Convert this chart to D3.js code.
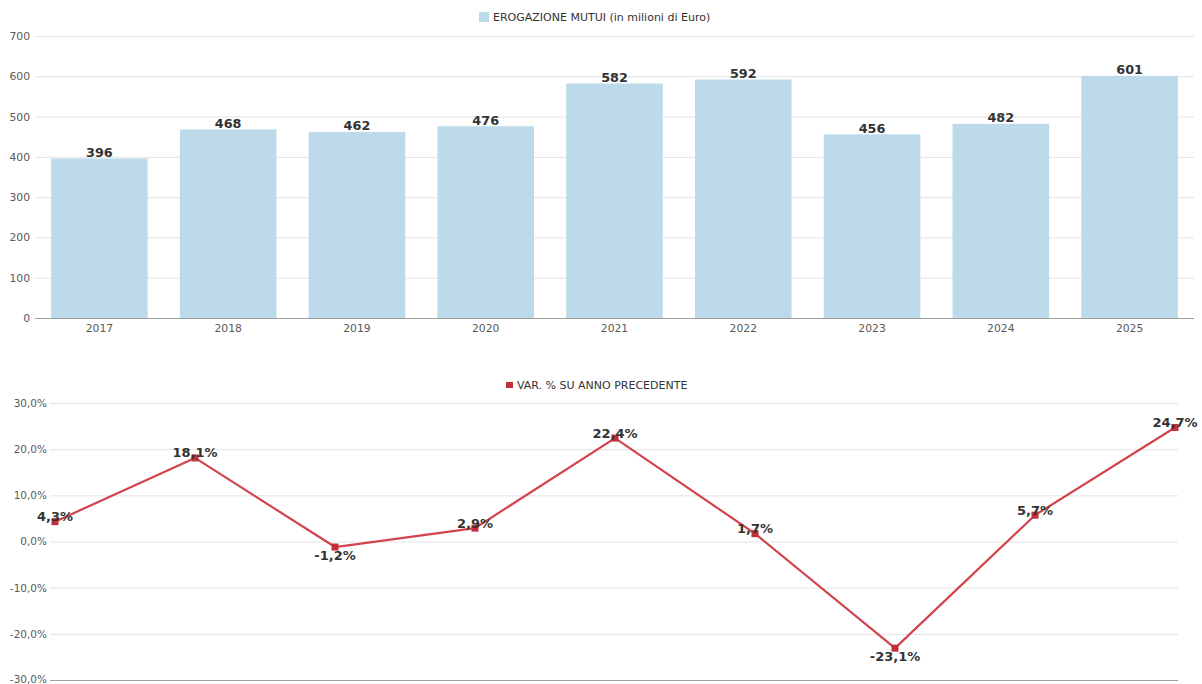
<!DOCTYPE html>
<html>
<head>
<meta charset="utf-8">
<script src="https://cdn.jsdelivr.net/npm/d3@7"></script>
<style>
  html, body { margin: 0; padding: 0; background: #fff; }
  svg { display: block; font-family: "DejaVu Sans", Verdana, sans-serif; }
</style>
</head>
<body>
<svg id="chart" width="1202" height="684"></svg>
<script>
const years = ["2017","2018","2019","2020","2021","2022","2023","2024","2025"];
const erogazione = [396, 468, 462, 476, 582, 592, 456, 482, 601];
const variazione = [4.3, 18.1, -1.2, 2.9, 22.4, 1.7, -23.1, 5.7, 24.7];
const barTicks = [0, 100, 200, 300, 400, 500, 600, 700];
const pctTicks = [-30, -20, -10, 0, 10, 20, 30];
const barLegend = "EROGAZIONE MUTUI (in milioni di Euro)";
const lineLegend = "VAR. % SU ANNO PRECEDENTE";

const svg = d3.select("#chart");
const fmtPct = v => d3.format(".1f")(v).replace("\u2212", "-").replace(".", ",") + "%";

// ---------- Top bar chart ----------
const x1 = d3.scaleBand().domain(years).range([35, 1194]).paddingInner(0.25).paddingOuter(0.125);
const y1 = d3.scaleLinear().domain([0, 700]).range([318, 36]);

const gTop = svg.append("g");
gTop.append("g").selectAll("line").data(barTicks.filter(d => d > 0)).join("line")
  .attr("x1", 35).attr("x2", 1194)
  .attr("y1", d => y1(d) + 0.5).attr("y2", d => y1(d) + 0.5)
  .attr("stroke", "#e3e3e3").attr("stroke-width", 1);

const yAx1 = gTop.append("g").attr("transform", "translate(35,0)")
  .call(d3.axisLeft(y1).tickValues(barTicks).tickSize(0).tickPadding(5));
yAx1.select(".domain").remove();
yAx1.selectAll("text").attr("fill", "#595959").style("font-size", "10.8px")
  .style("font-family", "DejaVu Sans, Verdana, sans-serif");

gTop.append("g").selectAll("rect").data(years).join("rect")
  .attr("x", d => x1(d)).attr("width", x1.bandwidth())
  .attr("y", (d, i) => y1(erogazione[i]))
  .attr("height", (d, i) => y1(0) - y1(erogazione[i]))
  .attr("fill", "#bcdaea");

gTop.append("line").attr("x1", 35).attr("x2", 1194).attr("y1", y1(0) + 0.5).attr("y2", y1(0) + 0.5)
  .attr("stroke", "#a0a0a0").attr("stroke-width", 1);

const xAx1 = gTop.append("g").attr("transform", `translate(0,${y1(0)})`)
  .call(d3.axisBottom(x1).tickSize(0).tickPadding(6));
xAx1.select(".domain").remove();
xAx1.selectAll("text").attr("fill", "#595959").style("font-size", "10.8px")
  .style("font-family", "DejaVu Sans, Verdana, sans-serif");

gTop.append("g").selectAll("text").data(years).join("text")
  .attr("x", d => x1(d) + x1.bandwidth() / 2)
  .attr("y", (d, i) => y1(erogazione[i]) - 1.5)
  .attr("text-anchor", "middle")
  .attr("fill", "#333")
  .style("font-size", "12.8px").style("font-weight", "bold")
  .text((d, i) => erogazione[i]);

const lg1 = gTop.append("g");
lg1.append("rect").attr("x", 479).attr("y", 12).attr("width", 10).attr("height", 10).attr("fill", "#bcdaea");
lg1.append("text").attr("x", 493).attr("y", 21).attr("fill", "#333").style("font-size", "11px").text(barLegend);

// ---------- Bottom line chart ----------
const x2 = d3.scalePoint().domain(years).range([55, 1175]);
const y2 = d3.scaleLinear().domain([-30, 30]).range([680, 403]);

const gBot = svg.append("g");
gBot.append("g").selectAll("line").data(pctTicks.filter(d => d > -30)).join("line")
  .attr("x1", 50).attr("x2", 1178)
  .attr("y1", d => y2(d) + 0.5).attr("y2", d => y2(d) + 0.5)
  .attr("stroke", "#e3e3e3").attr("stroke-width", 1);

gBot.append("line").attr("x1", 50).attr("x2", 1178).attr("y1", y2(-30) + 0.5).attr("y2", y2(-30) + 0.5)
  .attr("stroke", "#a0a0a0").attr("stroke-width", 1);

const yAx2 = gBot.append("g").attr("transform", "translate(50,0)")
  .call(d3.axisLeft(y2).tickValues(pctTicks).tickSize(0).tickPadding(3).tickFormat(fmtPct));
yAx2.select(".domain").remove();
yAx2.selectAll("text").attr("fill", "#595959").style("font-size", "10.5px")
  .attr("dy", d => d === -30 ? "0.2em" : "0.32em")
  .style("font-family", "DejaVu Sans, Verdana, sans-serif");

const line = d3.line().x((d, i) => x2(years[i])).y(d => y2(d));
gBot.append("path").datum(variazione).attr("d", line)
  .attr("fill", "none").attr("stroke", "#d2434d").attr("stroke-width", 2.2)
  .attr("stroke-linejoin", "round");

gBot.append("g").selectAll("rect").data(variazione).join("rect")
  .attr("x", (d, i) => x2(years[i]) - 3.5).attr("y", d => y2(d) - 3.5)
  .attr("width", 7).attr("height", 7).attr("fill", "#c0303a");

gBot.append("g").selectAll("text").data(variazione).join("text")
  .attr("x", (d, i) => x2(years[i]))
  .attr("y", d => d >= 0 ? y2(d) - 0.5 : y2(d) + 13)
  .attr("text-anchor", "middle")
  .attr("fill", "#333")
  .style("font-size", "13px").style("font-weight", "bold")
  .text(d => fmtPct(d));

const lg2 = gBot.append("g");
lg2.append("rect").attr("x", 506).attr("y", 382).attr("width", 7).attr("height", 6).attr("fill", "#c0303a");
lg2.append("text").attr("x", 517).attr("y", 389).attr("fill", "#333").style("font-size", "11px").text(lineLegend);
</script>
</body>
</html>
